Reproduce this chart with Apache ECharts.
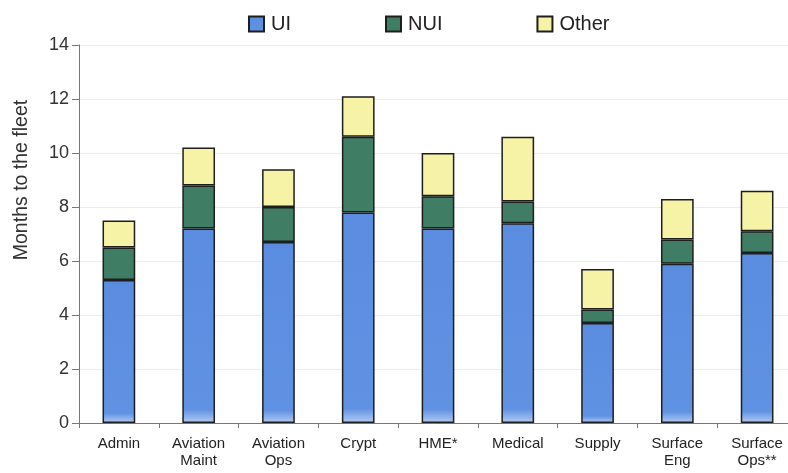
<!DOCTYPE html>
<html>
<head>
<meta charset="utf-8">
<script src="https://cdn.jsdelivr.net/npm/echarts@6/dist/echarts.min.js"></script>
<style>
  html, body { margin: 0; padding: 0; background: #fff; }
  #chart { width: 788px; height: 473px; }
</style>
</head>
<body>
<div id="chart"></div>
<script>
// Months to the fleet, split into UI / NUI / Other per rating group
const categories = ['Admin', 'Aviation\nMaint', 'Aviation\nOps', 'Crypt', 'HME*', 'Medical', 'Supply', 'Surface\nEng', 'Surface\nOps**'];
const uiValues    = [5.3, 7.2, 6.7, 7.8, 7.2, 7.4, 3.7, 5.9, 6.3];
const nuiValues   = [1.2, 1.6, 1.3, 2.8, 1.2, 0.8, 0.5, 0.9, 0.8];
const otherValues = [1.0, 1.4, 1.4, 1.5, 1.6, 2.4, 1.5, 1.5, 1.5];

const FONT = 'Liberation Sans, Arial, sans-serif';

const uiFill = new echarts.graphic.LinearGradient(0, 0, 0, 1, [
  { offset: 0, color: '#5a8de0' },
  { offset: 0.93, color: '#5f92e2' },
  { offset: 1, color: '#b4cbf3' },
]);
const border = { borderColor: '#1e1e1e', borderWidth: 1.5 };

const barSeries = (name, data, color) => ({
  name, type: 'bar', stack: 'total', data, barWidth: '41%',
  itemStyle: { color, ...border },
});

const chart = echarts.init(document.getElementById('chart'), null, { renderer: 'canvas' });
chart.setOption({
  backgroundColor: '#fff',
  textStyle: { fontFamily: FONT },
  legend: {
    top: 9, left: 243, itemGap: 94, itemWidth: 15, itemHeight: 15, icon: 'rect',
    textStyle: { fontSize: 20, color: '#222', fontFamily: FONT, padding: [0, 0, 0, 2] },
  },
  // plot runs a little past the right edge of the picture
  grid: { left: 79, width: 718, top: 45, bottom: 50, outerBoundsMode: 'none' },
  xAxis: {
    type: 'category', data: categories,
    axisLine: { lineStyle: { color: '#777' } },
    axisTick: { show: true, length: 5, lineStyle: { color: '#777' } },
    axisLabel: { interval: 0, fontSize: 15, lineHeight: 17, color: '#222', margin: 12, fontFamily: FONT },
  },
  yAxis: {
    type: 'value', min: 0, max: 14, interval: 2,
    name: 'Months to the fleet', nameLocation: 'middle', nameGap: 47,
    nameTextStyle: { fontSize: 19.5, color: '#333', fontFamily: FONT, padding: [0, 0, 0, 108] },
    axisLine: { show: true, lineStyle: { color: '#777' } },
    axisTick: { show: true, length: 7, lineStyle: { color: '#777' } },
    axisLabel: { fontSize: 18, color: '#333', margin: 10 },
    splitLine: { lineStyle: { color: '#ececec' } },
  },
  series: [
    barSeries('UI', uiValues, uiFill),
    barSeries('NUI', nuiValues, '#3f7d64'),
    barSeries('Other', otherValues, '#f7f3a6'),
  ],
});
</script>
</body>
</html>
